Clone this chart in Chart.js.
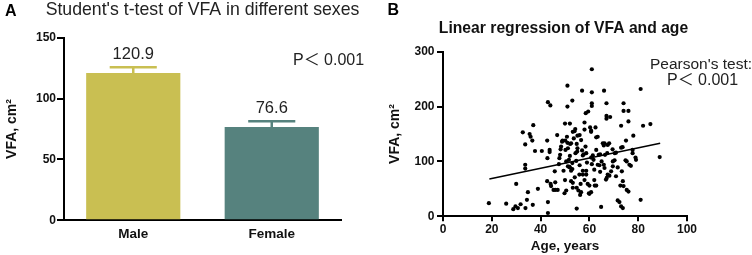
<!DOCTYPE html>
<html>
<head>
<meta charset="utf-8">
<script src="https://cdn.jsdelivr.net/npm/chart.js@4.4.1/dist/chart.umd.min.js"></script>
<style>
  body { margin: 0; background: #fff; }
  .panel { position: absolute; top: 0; width: 376px; height: 255px; }
  #panelA { left: 0; }
  #panelB { left: 376px; }
</style>
</head>
<body>
<div class="panel" id="panelA"><canvas id="chartA" width="376" height="255"></canvas></div>
<div class="panel" id="panelB"><canvas id="chartB" width="376" height="255"></canvas></div>
<script>
// panel A: mean VFA by sex
const categories = ['Male', 'Female'];
const meanVFA = [120.9, 76.6];
const errVFA = [4.8, 4.7];
const barColors = ['#c9bf52', '#56827e'];

// panel B: age vs VFA
const ages = [
  61, 51, 57, 61, 66, 81, 43, 44, 53, 51, 61, 61, 67, 59.5, 58.5, 74, 74, 76, 67, 67,
  68.5, 37, 50, 52, 58, 62.5, 73, 76, 82, 85,
  18.8, 25.9, 28.8, 29.7, 30.7, 31.8, 30, 32.7, 33.7, 33.7, 33.7, 34.4, 33.8, 34.8, 35.5, 35.9, 36.6, 36.8, 37.7, 38.9,
  40.5, 42.7, 42.8, 42.7, 43, 43, 43.7, 43.7, 44.1, 44.3, 45.3, 46, 47, 45.8, 46.8, 47.5, 47.7, 48.4, 48.2, 48.8,
  49.4, 49.8, 50.5, 50.1, 50.8, 50.2, 51.2, 50.5, 51.6, 51.2, 51.8, 52.1, 52.5, 52.5, 53, 52, 53.2, 52.5, 53.2, 53.9,
  54.2, 53.6, 54.3, 54.6, 55.1, 54.8, 55.1, 54.8, 55.5, 54.8, 55.9, 56.2, 56.6, 56.4, 57.3, 57.7, 57.3, 58.7, 57.3, 58.7,
  58, 58.4, 58.7, 59.3, 59.8, 60, 60.7, 60, 60.7, 60.7, 61.4, 61.7, 62.2, 62.8, 62.8, 62.8, 63.4, 64.1, 63.8, 64.4,
  64.4, 64.8, 65.5, 66.2, 65.9, 65.9, 66.2, 66.4, 66.8, 67.1, 67.3, 67.5, 68.2, 68.9, 69.6, 70.3, 69.6, 70.4, 70.9, 70.9,
  71.6, 72.3, 71.6, 72.7, 73, 73, 73.7, 73.3, 73.7, 74, 74.8, 75.3, 75, 75.3, 76, 76.4, 77, 77.7, 77.7, 78,
  78.9, 79.1, 81, 88.8,
  49, 51, 53.2, 56, 56.6, 60.3, 60.7, 63.4, 67.5, 68.1, 69.5, 73.6, 55, 57, 59, 61, 53, 56, 62, 65,
  52, 48, 54, 50, 58, 46, 62
];
const vfaValues = [
  268, 238, 229, 226, 229, 232, 208, 202, 211, 200, 206, 201, 206, 191, 188, 206, 192, 192, 183, 178,
  181, 166, 169, 169, 171, 162, 165, 173, 165, 168,
  24, 23, 13, 18, 15, 22, 59, 153, 131, 94, 87, 30, 15, 44, 150, 145, 138, 21, 119, 50,
  119, 138, 106, 64, 26, 6, 121, 117, 59, 55, 48, 48, 48, 82, 148, 95, 106, 127, 122, 136,
  83, 42, 47, 138, 145, 121, 124, 100, 103, 91, 90, 132, 133, 83, 86, 89, 61, 64, 52, 155,
  159, 142, 115, 101, 147, 132, 124, 52, 47, 14, 76, 39, 44, 59, 111, 113, 83, 83, 76, 76,
  158, 127, 115, 59, 42, 41, 44, 56, 156, 107, 111, 103, 56, 56, 144, 121, 94, 93, 112, 113,
  81, 17, 133, 133, 129, 94, 88, 112, 67, 70, 115, 76, 74, 82, 100, 102, 91, 115, 116, 73,
  29, 26, 89, 56, 125, 18, 15, 82, 64, 55, 102, 100, 138, 48, 45, 94, 92, 121, 115, 147,
  107, 103, 30, 108,
  138, 134, 154, 148, 139, 162, 154, 145, 130, 133, 122, 126, 118, 120, 98, 95, 97, 93, 85, 100,
  110, 112, 71, 66, 66, 62, 66
];
const fitAges = [19, 89];
const fitVFA = [68, 133];

const FONT = "'Liberation Sans', Arial, 'Noto Sans CJK SC', sans-serif";

const annotA = {
  id: 'annotA',
  afterDatasetsDraw(chart) {
    const { ctx, chartArea } = chart;
    const xs = chart.scales.x;
    const ys = chart.scales.y;
    const meta = chart.getDatasetMeta(0);
    ctx.save();
    meanVFA.forEach((v, i) => {
      const x = xs.getPixelForValue(i);
      const yBar = ys.getPixelForValue(v);
      const yTop = ys.getPixelForValue(v + errVFA[i]);
      const half = meta.data[i].width / 4;
      ctx.strokeStyle = barColors[i];
      ctx.lineWidth = 2.5;
      ctx.beginPath();
      ctx.moveTo(x, yBar);
      ctx.lineTo(x, yTop);
      ctx.moveTo(x - half, yTop);
      ctx.lineTo(x + half, yTop);
      ctx.stroke();
      ctx.fillStyle = '#222';
      ctx.font = '16.5px ' + FONT;
      ctx.textAlign = 'center';
      ctx.textBaseline = 'middle';
      ctx.fillText(v.toFixed(1), x, yTop - 13);
    });
    // title (wider than the plot, so drawn here)
    ctx.font = '17.7px ' + FONT;
    ctx.fillText("Student's t-test of VFA in different sexes", (chartArea.left + chartArea.right) / 2, 10);

    ctx.font = '16px ' + FONT;
    ctx.textAlign = 'left';
    ctx.fillText('P\uFF1C 0.001', chartArea.left + 229, chartArea.top + 23);
    ctx.fillStyle = '#000';
    ctx.font = 'bold 16px ' + FONT;
    ctx.fillText('A', 5, 12);
    ctx.restore();
  }
};

const annotB = {
  id: 'annotB',
  afterDraw(chart) {
    const { ctx, chartArea } = chart;
    ctx.save();
    ctx.fillStyle = '#111';
    ctx.font = 'bold 15.7px ' + FONT;
    ctx.textAlign = 'center';
    ctx.textBaseline = 'middle';
    ctx.fillText('Linear regression of VFA and age', (chartArea.left + chartArea.right) / 2 - 1.5, 29);

    ctx.fillStyle = '#222';
    ctx.font = '15.5px ' + FONT;
    ctx.textAlign = 'left';
    ctx.fillText("Pearson's test:", 274, 65);
    ctx.font = '16px ' + FONT;
    ctx.fillText('P\uFF1C 0.001', 291, 81);
    ctx.fillStyle = '#000';
    ctx.font = 'bold 16px ' + FONT;
    ctx.fillText('B', 11.5, 11);
    ctx.restore();
  }
};

new Chart(document.getElementById('chartA'), {
  type: 'bar',
  data: {
    labels: categories,
    datasets: [{
      data: meanVFA,
      backgroundColor: barColors,
      borderWidth: 0,
      barPercentage: 0.68,
      categoryPercentage: 1
    }]
  },
  options: {
    responsive: false,
    animation: false,
    layout: { padding: { top: 37.7, left: 0, right: 35, bottom: 0 } },
    plugins: {
      legend: { display: false },
      tooltip: { enabled: false }
    },
    scales: {
      x: {
        grid: { display: false, drawTicks: false },
        border: { color: '#000', width: 2 },
        ticks: { color: '#111', padding: 6.3, font: { family: FONT, size: 13.5, weight: 'bold' } },
        afterFit(scale) { scale.height = 34.7; }
      },
      y: {
        min: 0,
        max: 150,
        ticks: { stepSize: 50, color: '#111', padding: 1, font: { family: FONT, size: 12, weight: 'bold' } },
        grid: { drawOnChartArea: false, tickLength: 7, color: '#000', lineWidth: 2 },
        border: { color: '#000', width: 2 },
        title: {
          display: true,
          text: 'VFA, cm²',
          color: '#111',
          font: { family: FONT, size: 14, weight: 'bold' },
          padding: { top: 3.5 }
        },
        afterFit(scale) { scale.width = 64; }
      }
    }
  },
  plugins: [annotA]
});

new Chart(document.getElementById('chartB'), {
  type: 'scatter',
  data: {
    datasets: [
      {
        data: ages.map((a, i) => ({ x: a, y: vfaValues[i] })),
        backgroundColor: '#000',
        borderWidth: 0,
        pointRadius: 2.1
      },
      {
        type: 'line',
        data: fitAges.map((a, i) => ({ x: a, y: fitVFA[i] })),
        borderColor: '#000',
        borderWidth: 1.6,
        pointRadius: 0,
        fill: false
      }
    ]
  },
  options: {
    responsive: false,
    animation: false,
    layout: { padding: { top: 51.7, left: 0, right: 65, bottom: 0 } },
    plugins: {
      legend: { display: false },
      tooltip: { enabled: false }
    },
    scales: {
      x: {
        type: 'linear',
        min: 0,
        max: 100,
        ticks: { stepSize: 20, color: '#111', padding: 1, font: { family: FONT, size: 12, weight: 'bold' } },
        grid: { drawOnChartArea: false, tickLength: 5, color: '#000', lineWidth: 2 },
        border: { color: '#000', width: 2 },
        title: {
          display: true,
          text: 'Age, years',
          color: '#111',
          font: { family: FONT, size: 13.5, weight: 'bold' },
          padding: { top: 0, bottom: 1 }
        },
        afterFit(scale) { scale.height = 38.7; }
      },
      y: {
        min: 0,
        max: 300,
        ticks: { stepSize: 100, color: '#111', padding: 2.5, font: { family: FONT, size: 12, weight: 'bold' } },
        grid: { drawOnChartArea: false, tickLength: 6, color: '#000', lineWidth: 2 },
        border: { color: '#000', width: 2 },
        title: {
          display: true,
          text: 'VFA, cm²',
          color: '#111',
          font: { family: FONT, size: 14, weight: 'bold' },
          padding: { top: 10.6 }
        },
        afterFit(scale) { scale.width = 67; }
      }
    }
  },
  plugins: [annotB]
});
</script>
</body>
</html>
